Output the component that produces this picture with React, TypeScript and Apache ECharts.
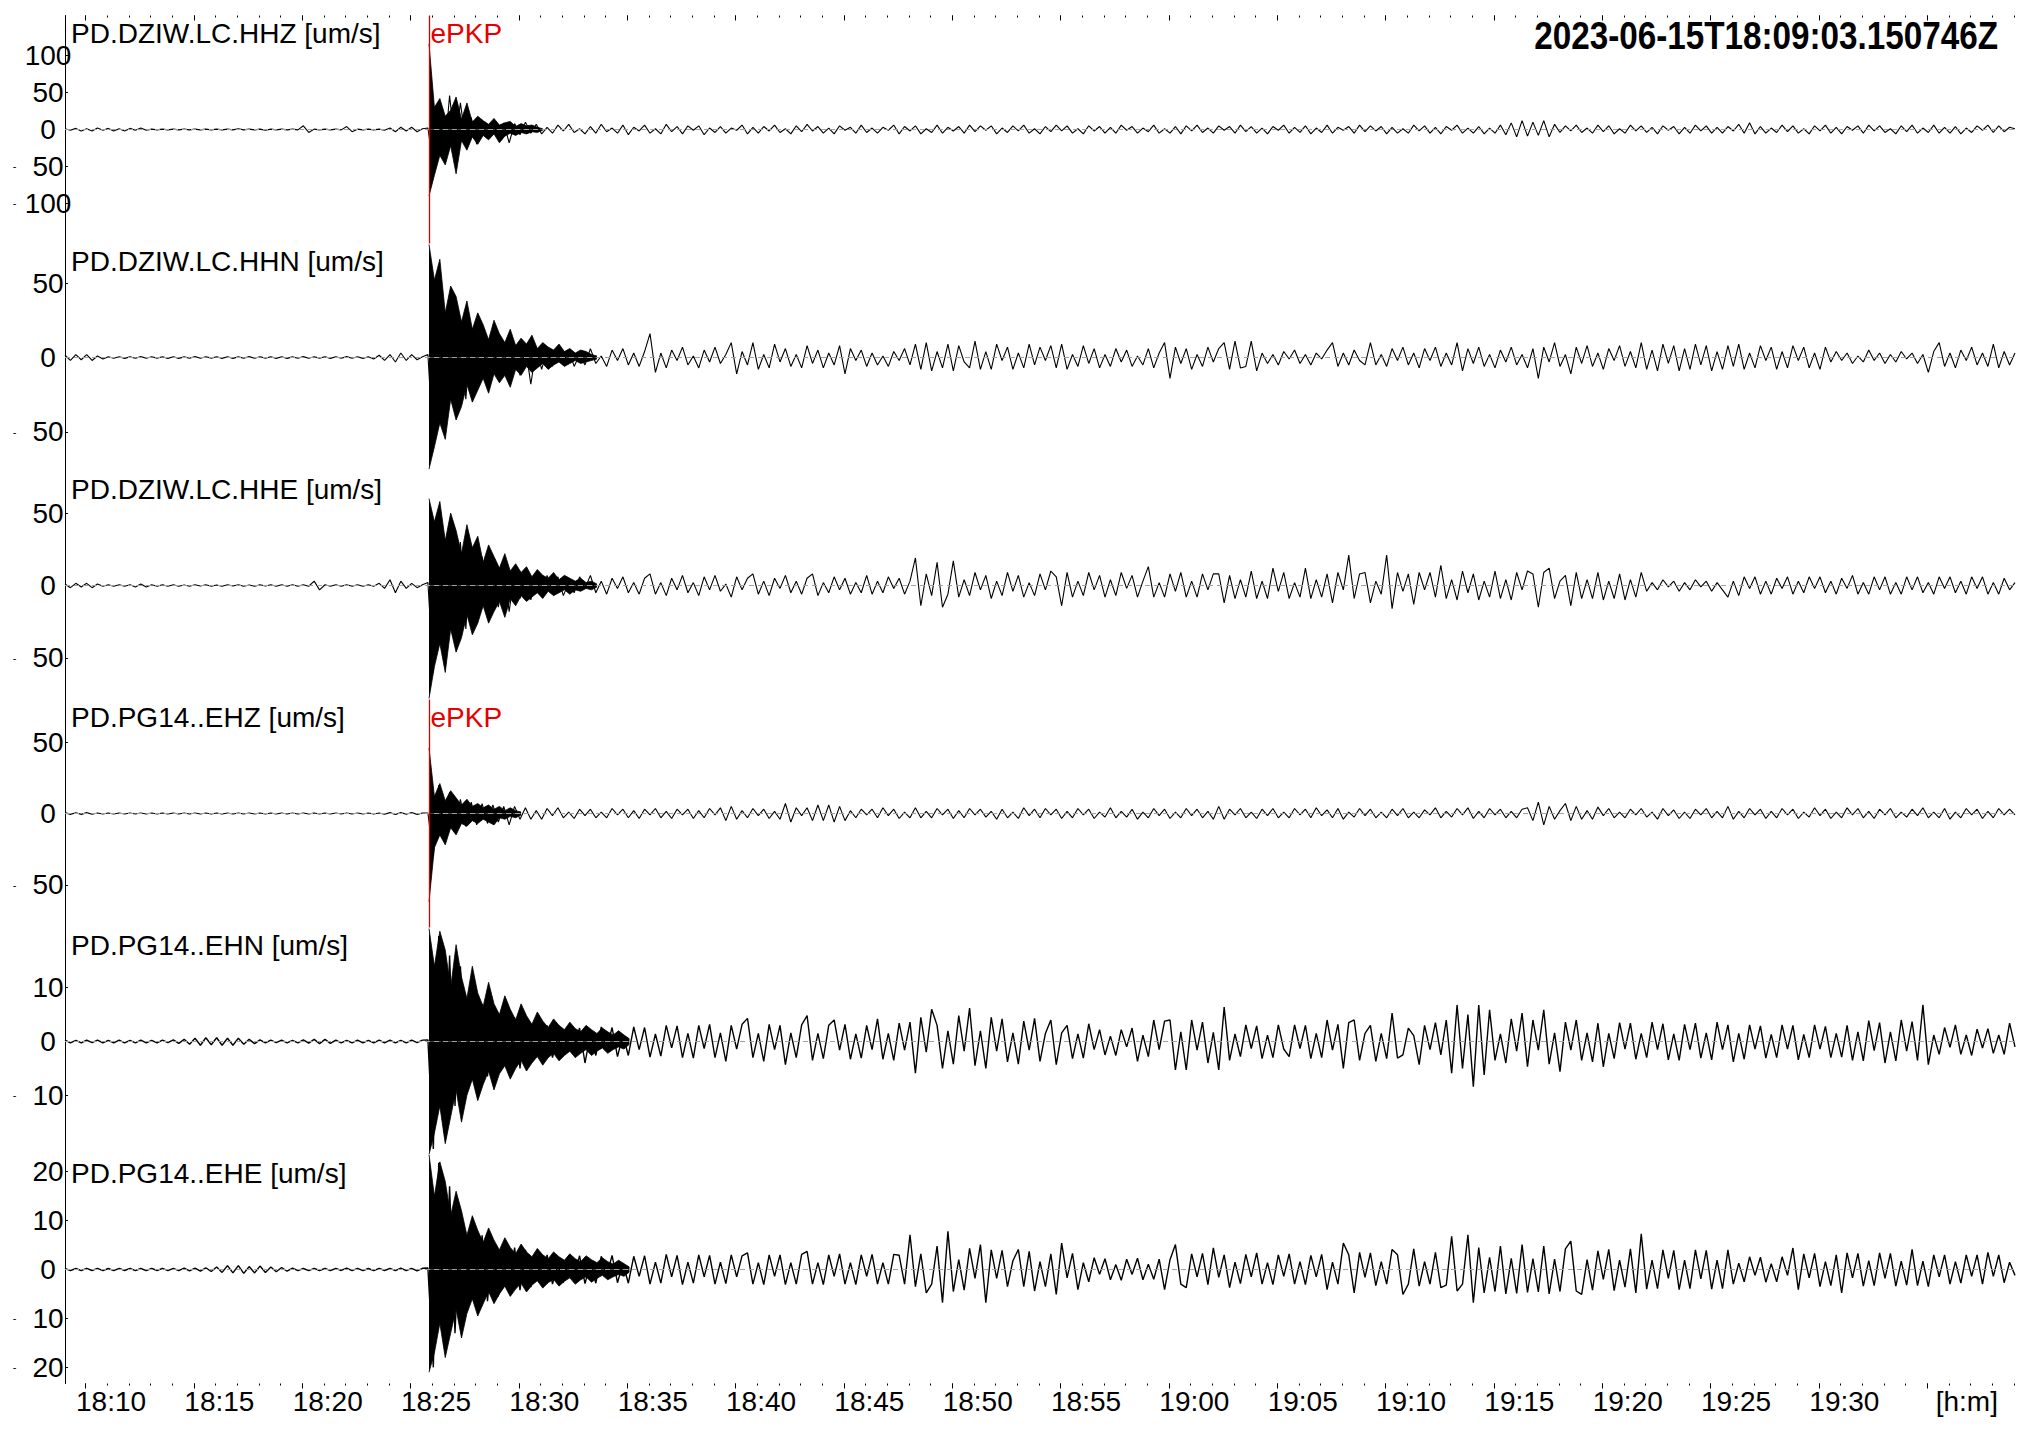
import React, { useEffect, useRef } from "react";
import * as echarts from "echarts";

// ---- time base (seconds after 18:00:00 UTC) ----
const START_SEC = 543.150746; // 18:09:03.150746
const SPAN_SEC = 5400; // 90 minutes
const STEP_SEC = 15; // sample step of the traced waveforms
const PICK_SEC = START_SEC + 1008; // ePKP pick, 18:25:51

const titleText = "2023-06-15T18:09:03.150746Z";
const phaseName = "ePKP";
const channelNames = [
  "PD.DZIW.LC.HHZ [um/s]",
  "PD.DZIW.LC.HHN [um/s]",
  "PD.DZIW.LC.HHE [um/s]",
  "PD.PG14..EHZ [um/s]",
  "PD.PG14..EHN [um/s]",
  "PD.PG14..EHE [um/s]",
];
const pickedChannels = [0, 3];
const amplitudeLimits = [154.5, 76.6, 78.7, 80, 21.2, 23.3];
const yTickValues = [
  [-100, -50, 0, 50, 100],
  [-50, 0, 50],
  [-50, 0, 50],
  [-50, 0, 50],
  [-10, 0, 10],
  [-20, -10, 0, 10, 20],
];
const timeTickValues = [600, 900, 1200, 1500, 1800, 2100, 2400, 2700, 3000, 3300, 3600, 3900, 4200, 4500, 4800, 5100, 5400, 5700];
const timeTickLabels = ["18:10", "18:15", "18:20", "18:25", "18:30", "18:35", "18:40", "18:45", "18:50", "18:55", "19:00", "19:05", "19:10", "19:15", "19:20", "19:25", "19:30", "[h:m]"];

// ---- traced waveforms, one value every 15 s from 18:09:03 ----
const hhzWave = [
  1,-1,1.5,-2,1,-2,2,-1,1.5,-2,
  1,-2,1.5,-1,2,-1,0.5,-0.5,0.5,-0.5,
  0.5,-0.5,0.5,-0.5,0.5,-0.5,0.5,-0.5,0.5,-0.5,
  0.5,-0.5,1,-0.5,0.5,-0.5,0.5,-1,0.5,-0.5,
  0.5,-0.5,0.5,-0.5,5,-4,0.5,-0.5,0.5,-0.5,
  0.5,-0.5,4,-3,0.5,-0.5,0.5,-0.5,0.5,-1,
  2,-3,3,-2,3,-3,1,2,-50,30,
  -40,46,-22,36,-18,16,-20,13,-12,11,
  -11,9,-18,8,-7,10,-5,7,-6,3,
  -5,6,-2,7,-4,1,-6,4,-5,7,
  -3,2,-5,6,-7,3,-2,6,-5,1,
  -6,7,-3,4,-6,5,-1,5,-7,2,
  -4,4,-5,2,-1,6,-6,3,-5,4,
  -2,6,-4,1,-6,5,-3,7,-2,4,
  -5,2,-6,5,-1,3,-5,6,-4,2,
  -5,3,-1,6,-6,4,-2,5,-6,1,
  -4,6,-5,3,-2,4,-5,6,-3,5,
  -1,5,-6,2,-4,5,-2,6,-5,1,
  -6,4,-3,6,-2,5,-5,1,-6,5,
  -2,4,-5,3,-5,6,-1,4,-5,2,
  -3,6,-5,1,-5,4,-6,5,-2,6,
  -4,2,-5,5,-1,4,-5,6,-3,4,
  -5,2,-6,4,-1,6,-5,3,-4,5,
  -6,2,-4,6,-5,3,-1,4,-5,6,
  -3,5,-2,4,-6,3,-5,1,-5,6,
  -2,5,-5,3,-6,4,-1,6,-5,2,
  -5,4,-6,2,-5,6,-7,9,-10,12,
  -9,10,-8,12,-10,7,-4,5,-2,6,
  -4,2,-5,6,-3,5,-6,1,-5,6,
  -2,5,-4,3,-6,5,-1,4,-6,3,
  -5,6,-2,5,-5,3,-5,4,-2,7,
  -5,9,-6,4,-5,2,-4,6,-3,5,
  -5,1,-6,5,-2,6,-5,3,-6,4,
  -1,5,-5,6,-2,5,-4,1,-6,5,
  -3,6,-5,2,-4,6,-5,3,-5,4,
  -6,2,-4,5,-1,6,-4,5,-3,3,
  1,
];
const hhnWave = [
  1.5,-2,2,-1.5,2,-2,1,-1,0.5,-0.5,
  0.5,-0.6,0.4,-0.5,0.6,-0.5,0.5,-0.4,0.5,-0.6,
  0.5,-0.6,0.4,-0.5,0.6,-0.5,0.5,-0.4,0.5,-0.6,
  0.5,-0.6,0.4,-0.5,0.6,-0.5,0.5,-0.4,0.5,-0.6,
  0.5,-0.6,0.4,-0.5,0.6,-0.5,0.5,-0.4,0.5,-0.6,
  0.5,-0.5,0.6,-0.5,0.5,-0.6,0.5,-1,1.5,-2,
  2,-3,3,-2,2,-1.5,0.5,2,-60,40,
  -44,36,-30,24,-28,20,-19,16,-15,13,
  -15,10,-11,9,-12,7,-18,6,-8,5,
  -6,6,-3,5,-6,2,-5,6,-4,1,
  -6,5,-2,6,-5,3,-6,4,16,-10,
  3,-7,5,-2,7,-5,1,-7,5,-3,
  7,-4,2,10,-11,4,-5,10,-8,2,
  -7,9,-3,6,-6,2,-7,8,-4,5,
  -7,3,-5,8,-11,6,-2,5,-6,3,
  -5,1,-6,4,-2,6,-5,9,-8,10,
  -9,4,-7,9,-9,8,-3,-7,11,-8,
  4,-8,9,-2,7,-8,3,-7,9,-5,
  7,-2,8,-7,9,-8,2,-6,8,-4,
  6,-7,2,-6,6,-3,5,-6,1,-5,
  6,-7,3,10,-14,7,-4,6,-8,2,
  -6,7,-3,6,10,-8,11,-7,-6,11,
  -9,3,-4,2,-5,4,-1,5,-4,2,
  -5,3,-1,5,10,-6,3,-5,5,-2,
  -5,10,-5,2,-6,6,-2,7,-5,3,
  -7,6,-2,7,-6,3,-5,10,-9,6,
  -4,7,-6,2,-7,5,-3,7,-5,2,
  -7,6,-14,7,-3,10,-6,2,-11,7,
  -4,8,-6,3,-8,6,-2,8,-6,4,
  -7,10,-8,5,-9,9,-4,8,-9,6,
  -8,9,-5,8,-9,4,-8,8,-6,9,
  -8,3,-7,8,-2,7,-8,4,-7,8,
  -2,7,-7,3,-8,7,-3,4,-2,3,
  -4,1,-3,5,-2,3,-4,2,-3,4,
  -1,3,-4,2,-10,4,10,-6,3,-7,
  5,-2,7,-5,3,-6,9,-7,4,-5,
  3,
];
const hheWave = [
  1,-1.5,1.5,-1,1.5,-1.5,1,-0.5,0.5,-0.5,
  0.5,-0.5,0.5,-1,1,-1,0.5,-0.5,0.5,-0.5,
  0.5,-0.5,0.4,-0.5,0.5,-0.4,0.5,-0.5,0.4,-0.5,
  0.5,-0.4,0.5,-0.5,0.4,-0.5,0.5,-0.4,0.5,-0.5,
  0.5,-0.5,0.5,-0.5,0.5,-0.5,3,-3,0.5,-0.5,
  0.5,-0.5,0.5,-0.5,0.5,-0.5,0.5,-0.5,1.5,-2,
  4,-5,3,-2,1.5,-1.5,0.5,2,-60,53,
  -48,40,-30,30,-30,26,-23,20,-18,16,
  -15,12,-18,10,-9,9,-10,5,-8,7,
  -3,6,-7,2,-5,6,-2,7,-5,3,
  -6,5,-2,6,-5,2,-6,5,8,-6,
  2,-7,5,-3,7,-5,2,-7,6,-3,
  7,-4,1,-8,6,-3,5,8,-6,3,
  -7,5,-2,7,-5,3,-6,5,8,-7,
  2,-5,6,-3,5,-6,2,-5,7,-6,
  3,-5,6,-2,5,-6,3,19,-14,8,
  -7,16,-15,-6,17,-8,4,-7,9,-3,
  7,-9,3,-7,9,-4,7,-8,2,-7,
  8,-3,10,6,-14,9,-8,3,-7,9,
  -3,7,-8,4,-7,9,-2,7,-8,3,
  13,-8,2,-8,8,-4,9,-8,3,-8,
  8,-3,8,8,-12,7,-9,4,-8,10,
  -9,3,-9,12,-4,9,-9,2,-8,12,
  -9,4,-8,8,-12,9,-3,21,-9,8,
  9,-12,3,-6,21,-16,9,-4,8,-13,
  9,-3,9,-8,14,-9,4,-10,10,-5,
  8,-10,3,-8,10,-9,4,-10,9,-3,
  10,8,-15,9,12,-9,3,7,-14,9,
  -9,4,-9,9,-10,3,-9,8,-10,4,
  -8,9,-4,2,-3,4,-1,3,-4,2,
  -3,4,-1,3,-4,2,-3,-8,3,-7,
  6,-2,6,-6,3,-6,5,-2,6,-6,
  3,-5,6,-2,6,-5,3,-6,5,-2,
  7,-6,2,-6,6,-3,6,-6,2,-6,
  6,-3,6,-5,2,-6,6,-2,6,-5,
  3,-6,6,-2,6,-6,2,-6,5,-3,
  2,
];
const ehzWave = [
  0.6,-0.6,0.5,-0.6,0.6,-0.5,0.4,-0.4,0.4,-0.4,
  0.4,-0.3,0.4,-0.4,0.3,-0.4,0.4,-0.3,0.4,-0.4,
  0.4,-0.3,0.4,-0.4,0.3,-0.4,0.4,-0.3,0.4,-0.4,
  0.4,-0.3,0.4,-0.4,0.3,-0.4,0.4,-0.3,0.4,-0.4,
  0.4,-0.3,0.4,-0.4,0.3,-0.4,0.4,-0.3,0.4,-0.4,
  0.4,-0.3,0.4,-0.4,0.3,-0.4,0.4,-0.3,0.4,-0.5,
  0.6,-0.7,0.6,-0.5,0.7,-0.6,0.4,0.4,-30,20,
  -20,15,-12,10,-9,8,-8,7,-7,6,
  -6,5,-8,5,-4,4,-4,2,-4,3.5,
  -1.5,4,-3,1,-3.5,3,-1.5,3,-3,1,
  -3,3.5,-1,3,-3,2,-3.5,3,-1,3.5,
  -3,1.5,-3.5,3,-1,3,-3.5,2,-3,3.5,
  -1,4,-5,5,-4,2,-3,3.5,-1.5,3,
  -3.5,1.5,-4,7,-6,4,-1.5,4,-5,6,
  -5,6,-6,5,-5,2,-3,3,-1,3,
  -3,4,-1.5,3,-3.5,1,-3,4,-3,1.5,
  -3,3.5,-1,3,-3.5,2,-3,3.5,-1,3,
  -2.5,1.5,-4,3,-3,1,-3.5,4,-1.5,3,
  -3,3.5,-1,3,-3.5,1.5,-3,3.5,-1,3,
  -3.5,1,-2.5,4,-3,1.5,-2.5,3,-4,1,
  -3,3.5,-1.5,3,-3.5,1,-3,3.5,-1.5,3,
  -3,1.5,-4,5,-4,3,-1,3.5,-3,1,
  -3.5,3,-1.5,3.5,-3,1,-3,3.5,-1,3,
  -3,4,-1.5,2.5,-3,3.5,-4,1,-2.5,3.5,
  -1.5,3,-3,1,-3,3,-1.5,3.5,-3,1,
  -3,2.5,-1,4,-3,1.5,-2.5,3.5,-1,4,
  -3.5,1.5,-3,3.5,-1,3,-3,1.5,-3,3,
  4,-5,8,-8,5,-4,2,7,-5,5,
  -4,2,-4,4.5,-1.5,3.5,-3,1,-3,3,
  -1,3.5,-2.5,1,-4,3.5,-1.5,2.5,-3.5,1,
  -3.5,3,-1,3.5,-3,1.5,-3,5,-4,1.5,
  -3,3.5,-1,3,-3.5,1.5,-3,3.5,-1,3,
  -3.5,1,-2.5,4,-1.5,3,-3.5,1,-3,4,
  -1,3.5,-3,1.5,-3.5,3,-1,3.5,-3,1,
  -2.5,3,-1.5,4,-3,1,-3,3.5,-4,1,
  -3,3.5,-1,3,-3.5,1.5,-3,3.5,-1,3,
  -1,
];
const ehnWave = [
  0.25,-0.25,0.2,-0.25,0.25,-0.2,0.25,-0.25,0.2,-0.25,
  0.25,-0.25,0.2,-0.25,0.25,-0.25,0.2,-0.25,0.25,-0.2,
  0.3,-0.35,0.4,-0.5,0.6,-0.7,0.7,-0.6,0.7,-0.7,
  0.6,-0.7,0.6,-0.5,0.4,-0.4,0.3,-0.25,0.25,-0.2,
  0.25,-0.25,0.2,-0.25,0.3,-0.3,0.4,-0.4,0.4,-0.35,
  0.25,-0.25,0.2,-0.25,0.25,-0.25,0.2,-0.25,0.25,-0.25,
  0.25,-0.25,0.2,-0.25,0.25,-0.2,0.25,0.3,-20,19.6,
  -17,16,-12,14,-9,8.4,-7.5,7,-6.5,6,
  -5.3,5,-5,4.5,-5,4.5,-4,3.8,-3.5,3,
  -3,1.5,-2.6,2.9,-1.2,2.5,-4,1.4,-2.6,2.7,
  -1.3,2.6,-2.8,1.2,-2.6,2.7,-1.5,2.6,-2.9,1.4,
  -2.7,3,-1.2,2.9,-3,1.5,-3.1,3,-1.3,3.2,
  -3,1.6,-3.7,3,-1.4,3.2,4.3,-3,1.5,-3.7,
  3.2,-1.5,3,-4.3,1.6,-3,3.1,4.8,-3.5,1.5,
  -3.2,3,4,-1.6,3.2,-3.3,1.4,-3.1,3,-1.5,
  4.2,-3.3,1.5,-3.5,3.4,-1.6,3.6,-5.9,4.5,-2,
  6,3,-5,2,-4.2,4.8,-1.8,6.2,-4.5,2,
  -5,4.5,-1.8,4.2,-3.8,1.6,-4.2,3.8,-1.6,4.3,
  -3.7,1.5,4,-4.3,1.6,3,-3.2,1.4,-3.1,3.3,
  -1.5,2.2,-2.5,1,-2.6,2.2,-1,2.5,-3.7,1.2,
  -2.8,4,-1.5,3.8,4,-5.3,1.8,-5.3,4,-1.6,
  3.6,-4,1.7,-5.3,6.4,-3.5,1.4,-2.8,3.1,-1.3,
  2.9,-3.2,1.2,-3,3.1,-1.4,-2.8,3.1,-1.3,3,
  -3.2,1.5,-3,4,-1.6,3.2,-5,3.5,4,-3.5,
  1.5,3,-3.7,1.5,-3.2,5.3,-3.1,-2.5,2.5,1.1,
  -4.3,3,-1.5,3.5,-2.5,4,-5.9,6.8,-5,5,
  -8.4,6.8,-6.2,5.9,-3.5,1.4,-4,4.2,-1.8,5.3,
  -4.7,4,-1.6,5.9,-4.2,1.6,-5.6,3.6,-1.6,4,
  -3.5,1.6,-3.8,3.4,-4.7,1.5,-3.2,3.5,-1.4,3.4,
  -3.3,1.5,-3,3.6,-1.5,3.3,-3.4,1.4,-3.5,3.2,
  -1.5,3.4,-3.1,1.6,-3.4,3.6,-1.5,3.1,-3.8,1.5,
  -3.3,3.1,-1.4,2.9,-3.1,1.3,-3,3.1,-1.4,3,
  -3.4,1.3,-3,3.1,-1.4,2.8,-3,1.5,-2.9,3,
  -3.5,1.8,-3.6,3.9,-1.7,3.5,-4,1.8,-3.6,4,
  -1.8,3.7,-3.5,6.8,-4.3,1.2,-2.4,2.6,-1.1,3.1,
  -2.4,1.2,-2.6,2.3,-1.2,2.4,-2.2,1.2,-2.4,3.4,
  -1,
];
const eheWave = [
  0.25,-0.25,0.2,-0.25,0.25,-0.2,0.25,-0.25,0.2,-0.25,
  0.25,-0.2,0.25,-0.25,0.2,-0.25,0.25,-0.2,0.25,-0.25,
  0.25,-0.25,0.3,-0.3,0.3,-0.35,0.35,-0.4,0.5,-0.6,
  0.8,-0.7,0.8,-0.8,0.6,-0.7,0.7,-0.6,0.5,-0.45,
  0.4,-0.35,0.3,-0.25,0.2,-0.25,0.25,-0.2,0.25,-0.25,
  0.25,-0.2,0.3,-0.25,0.25,-0.25,0.2,-0.25,0.25,-0.2,
  0.25,-0.25,0.3,-0.25,0.25,-0.3,0.25,0.3,-20,21.8,
  -15.6,17,-13,12,-8,8.8,-7.5,7,-6.5,6,
  -5.5,4.8,-4.8,4.5,-4.2,4,-3.6,3.5,-3.2,3,
  -3,1.4,-2.7,2.9,-1.3,2.8,-2.9,1.3,-2.8,2.7,
  -1.3,2.9,-2.7,1.3,-2.8,2.7,-1.4,2.8,-3,1.5,
  -2.8,3.1,-1.5,2.9,-3.1,1.5,-2.8,3,-1.5,2.9,
  -3,1.5,-2.9,3,-1.5,2.8,3.4,-3,1.4,-3.1,
  3,-1.4,3,-3.1,1.4,-3,3.1,3.7,-3,1.4,
  -3.1,3,-1.4,3.2,-3,1.4,-3.1,3,-1.4,3.1,
  -3,1.4,-3,3.1,2.9,-3,7.1,-3.5,3.2,-4.8,
  -3,4.8,-6.8,7.8,-4.5,2,-4.2,4.3,-1.8,5.1,
  -6.8,4,-1.8,3.9,-3.5,1.8,4.1,-3.5,3.7,-4.4,
  1.6,-3.5,3.2,-5.1,5.4,-1.7,3.3,-4.1,1.4,-2.5,
  2.4,-1,2.2,-2.1,1,-2.2,2.1,-1,2.3,-2.1,
  1.1,-2,2.1,-4.1,2,5.1,-3,-3.7,3.2,-1.5,
  3.3,-3.1,4.4,-1.6,3,-3.7,1.5,-2.9,3.1,-1.5,
  3.4,-3,1.4,-3.1,3,-1.4,3.2,-3,1.6,-3.1,
  2.9,-1.5,3.1,-4.1,1.5,-3,5.4,3,-4.8,3.5,
  -1.6,3.4,-3.3,1.6,-3,4.1,3,-5.1,-3,4.2,
  -3.4,1.6,-3,3.5,-3.7,-3.2,6.8,-4.4,-3,7.1,
  -6.8,4.5,-4.8,2.5,-4.5,4.8,-5,2.3,-4.9,5.1,
  -4.7,2.2,-4.6,4.8,-5,2.1,-4.5,4.2,5.8,-4.4,
  -5.1,2,-4.2,3.8,-2,4.1,-4.3,1.9,-3.6,4.2,
  -4.8,7.3,-4,1.9,-3.9,4,-1.8,3.9,-4.1,1.9,
  -3.9,4,-1.9,3.9,-4,1.9,-3.9,4,-3,1.3,
  -2.5,2.6,-1.2,2.5,-2.6,1.2,-2.5,2.6,-1.2,4.4,
  -4.1,3.2,-1.7,3.3,-3.5,1.6,-3.3,3,-4.8,3.4,
  -1.7,3.3,-3.4,1.8,-3.3,3.4,-1.8,3.3,-3.4,1.7,
  -3.2,4.1,-3.3,1.7,-3.5,3,-1.5,3,-3,1.6,
  -2.8,3,-1.4,3,-3,3.5,-1.4,3,-2.7,1.5,
  -1.2,
];

// ---- solid coda envelope after the pick, one value every 15 s from 18:25:51 ----
const hhzCodaUp = [116,30,42,18,26,44,14,36,10,18,12,7,15,6,9,11,4,8,5,6,3,1];
const hhzCodaDn = [-90,-62,-35,-48,-22,-60,-15,-28,-10,-20,-8,-14,-6,-18,-9,-5,-8,-4,-6,-3,-4,-1];
const hhnCodaUp = [76,52,66,30,48,41,24,38,19,30,22,12,25,16,10,19,8,13,9,15,6,10,7,5,9,4,6,3,5,4,2,1];
const hhnCodaDn = [-75,-60,-44,-55,-28,-42,-33,-18,-30,-22,-14,-24,-11,-17,-12,-20,-8,-12,-6,-10,-7,-4,-8,-5,-3,-6,-4,-2,-4,-3,-2,-1];
const hheCodaUp = [60,44,58,31,50,38,22,42,26,34,16,28,20,12,22,10,15,9,13,6,11,7,5,9,4,7,5,3,5,2,3,1];
const hheCodaDn = [-78,-56,-40,-60,-30,-46,-36,-20,-34,-26,-14,-26,-18,-11,-22,-9,-14,-7,-11,-8,-5,-9,-4,-7,-5,-3,-6,-3,-4,-2,-3,-1];
const ehzCodaUp = [46,12,21,9,16,11,6,10,5,7,4,6,3,5,2,4,2,1];
const ehzCodaDn = [-62,-24,-15,-22,-10,-15,-7,-9,-5,-7,-4,-6,-8,-3,-4,-2,-3,-1];
const ehnCodaUp = [21,14,20.5,17,10,18,12,8,14,9,6.5,11,7,5,8.5,6,4,7,4.8,3.2,5.5,3.8,2.6,4.2,3,2.2,3.6,2.4,1.8,3,2.2,1.5,2.5,1.8,1.2,2,1.2,0.5];
const ehnCodaDn = [-21,-17,-12,-19,-14,-9,-15,-10,-7,-11,-8,-5.5,-9,-6,-4.5,-7,-5,-3.5,-5.5,-4,-2.8,-4.4,-3,-2.2,-3.6,-2.6,-1.8,-3,-2.2,-1.5,-2.6,-1.8,-1.2,-2.2,-1.5,-1,-1.4,-0.5];
const eheCodaUp = [23.5,15,22,18,11,16,12,7,11,8,5.5,8.5,6,4,6.5,4.5,3.2,5.2,3.6,2.6,4.3,3,2.2,3.6,2.6,1.9,3.2,2.2,1.6,2.8,2,1.4,2.4,1.6,1.1,1.9,1.2,0.5];
const eheCodaDn = [-21,-17,-11,-18,-13,-8,-14,-9,-6,-9.5,-7,-4.5,-7,-5,-3.4,-5.5,-4,-2.8,-4.6,-3.2,-2.3,-3.8,-2.7,-2,-3.4,-2.4,-1.7,-3,-2.1,-1.5,-2.6,-1.8,-1.2,-2.1,-1.5,-1,-1.4,-0.5];

const waves = [hhzWave, hhnWave, hheWave, ehzWave, ehnWave, eheWave];
const codaUps = [hhzCodaUp, hhnCodaUp, hheCodaUp, ehzCodaUp, ehnCodaUp, eheCodaUp];
const codaDns = [hhzCodaDn, hhnCodaDn, hheCodaDn, ehzCodaDn, ehnCodaDn, eheCodaDn];

// ---- layout / style ----
const W = 2029;
const H = 1432;
const GRID_LEFT = 65;
const GRID_RIGHT = 14;
const GRID_TOP = 15.5;
const PANEL_H = 228;
const FONT = '"Liberation Sans", Arial, Helvetica, sans-serif';
const LABEL_SHIFT_SEC = 26.3; // labels start ~9.5px left of their tick
const traceWidths = [1.1, 1.1, 1.1, 1.1, 1.4, 1.4];

export default function App() {
  const ref = useRef<HTMLDivElement | null>(null);

  useEffect(() => {
    document.body.style.margin = "0";
    if (!ref.current) return;
    const chart = echarts.init(ref.current, undefined, { renderer: "svg", width: W, height: H });

    const minuteTicks: number[] = [];
    for (let s = 600; s <= START_SEC + SPAN_SEC; s += 60) minuteTicks.push(s);

    const grids = channelNames.map((_, k) => ({
      left: GRID_LEFT,
      right: GRID_RIGHT,
      top: GRID_TOP + k * PANEL_H,
      height: PANEL_H,
    }));

    const hiddenLine = { show: false, onZero: false };
    const xAxes: any[] = channelNames.map((_, k) => ({
      type: "value",
      gridIndex: k,
      min: START_SEC,
      max: START_SEC + SPAN_SEC,
      axisLine: hiddenLine,
      axisTick: { show: false },
      axisLabel: { show: false },
      splitLine: { show: false },
    }));
    const tickAxis = (gi: number, pos: string, values: number[], len: number, inside: boolean) => ({
      type: "value",
      gridIndex: gi,
      position: pos,
      min: START_SEC,
      max: START_SEC + SPAN_SEC,
      axisLine: hiddenLine,
      axisTick: { show: true, customValues: values, length: len, inside, lineStyle: { color: "#000", width: 1 } },
      axisLabel: { show: false },
      splitLine: { show: false },
    });
    xAxes.push(tickAxis(0, "top", timeTickValues, 5, true));
    xAxes.push(tickAxis(0, "top", minuteTicks, 2, true));
    xAxes.push(tickAxis(5, "bottom", timeTickValues, 5, false));
    xAxes.push(tickAxis(5, "bottom", minuteTicks, 2, false));
    xAxes.push({
      type: "value",
      gridIndex: 5,
      position: "bottom",
      min: START_SEC + LABEL_SHIFT_SEC,
      max: START_SEC + SPAN_SEC + LABEL_SHIFT_SEC,
      axisLine: hiddenLine,
      axisTick: { show: false },
      splitLine: { show: false },
      axisLabel: {
        show: true,
        customValues: timeTickValues,
        align: "left",
        margin: 4,
        fontSize: 28,
        fontFamily: FONT,
        color: "#000",
        formatter: (v: number) => {
          const idx = timeTickValues.indexOf(Math.round(v));
          const s = idx >= 0 ? timeTickLabels[idx] : "";
          return s.startsWith("[") ? `{u|${s}}` : s;
        },
        rich: { u: { fontSize: 28, fontFamily: FONT, color: "#000", padding: [0, 0, 0, 18] } },
      },
    });

    const yAxes = channelNames.map((_, k) => ({
      type: "value",
      gridIndex: k,
      min: -amplitudeLimits[k],
      max: amplitudeLimits[k],
      axisLine: { show: true, onZero: false, lineStyle: { color: "#000", width: 1 } },
      axisTick: { show: true, inside: true, length: 3, customValues: yTickValues[k], lineStyle: { color: "#000" } },
      splitLine: { show: false },
      axisLabel: {
        show: true,
        customValues: yTickValues[k],
        align: "right",
        margin: -6,
        fontSize: 28,
        fontFamily: FONT,
        color: "#000",
        formatter: (v: number) => (v < 0 ? `{m|-}{v|${Math.abs(v)}}` : `{v|${v}}`),
        rich: {
          m: { width: 21, align: "center", fontSize: 11, fontFamily: FONT, color: "#000" },
          v: { width: 46, align: "center", fontSize: 28, fontFamily: FONT, color: "#000" },
        },
      },
    }));

    const series: any[] = [];
    channelNames.forEach((_, k) => {
      [codaUps[k], codaDns[k]].forEach((arr) => {
        series.push({
          type: "line",
          xAxisIndex: k,
          yAxisIndex: k,
          data: arr.map((v, j) => [PICK_SEC + j * STEP_SEC, v]),
          symbol: "none",
          silent: true,
          z: 2,
          lineStyle: { width: 0.8, color: "#000" },
          areaStyle: { color: "#000", opacity: 1 },
        });
      });
      const markData: any[] = [{ yAxis: 0, lineStyle: { color: "#a0a0a0", type: [5, 4], width: 1 } }];
      if (pickedChannels.includes(k)) {
        markData.push({ xAxis: PICK_SEC, lineStyle: { color: "#d40000", type: "solid", width: 1.3 } });
      }
      series.push({
        type: "line",
        name: channelNames[k],
        xAxisIndex: k,
        yAxisIndex: k,
        data: waves[k].map((v, i) => [START_SEC + i * STEP_SEC, v]),
        symbol: "none",
        silent: true,
        z: 3,
        lineStyle: { width: traceWidths[k], color: "#000" },
        markLine: { silent: true, symbol: ["none", "none"], label: { show: false }, data: markData },
      });
    });

    chart.setOption({
      animation: false,
      backgroundColor: "#fff",
      grid: grids,
      xAxis: xAxes,
      yAxis: yAxes,
      series,
    });

    const graphics: any[] = [
      {
        type: "text",
        x: 1998,
        y: 36,
        scaleX: 0.875,
        z: 10,
        style: { text: titleText, fill: "#000", fontSize: 38, fontWeight: "bold", fontFamily: FONT, align: "right", verticalAlign: "middle" },
      },
    ];
    channelNames.forEach((name, k) => {
      graphics.push({
        type: "text",
        x: GRID_LEFT + 6,
        y: GRID_TOP + k * PANEL_H + 18.4,
        z: 10,
        style: { text: name, fill: "#000", fontSize: 28, fontFamily: FONT, align: "left", verticalAlign: "middle" },
      });
    });
    pickedChannels.forEach((k) => {
      const px = chart.convertToPixel({ xAxisIndex: k }, PICK_SEC) as number;
      graphics.push({
        type: "text",
        x: px + 1.5,
        y: GRID_TOP + k * PANEL_H + 18.4,
        z: 10,
        style: { text: phaseName, fill: "#e60000", fontSize: 28, fontFamily: FONT, align: "left", verticalAlign: "middle" },
      });
    });
    chart.setOption({ graphic: graphics });

    return () => chart.dispose();
  }, []);

  return <div ref={ref} style={{ width: W, height: H }} />;
}
